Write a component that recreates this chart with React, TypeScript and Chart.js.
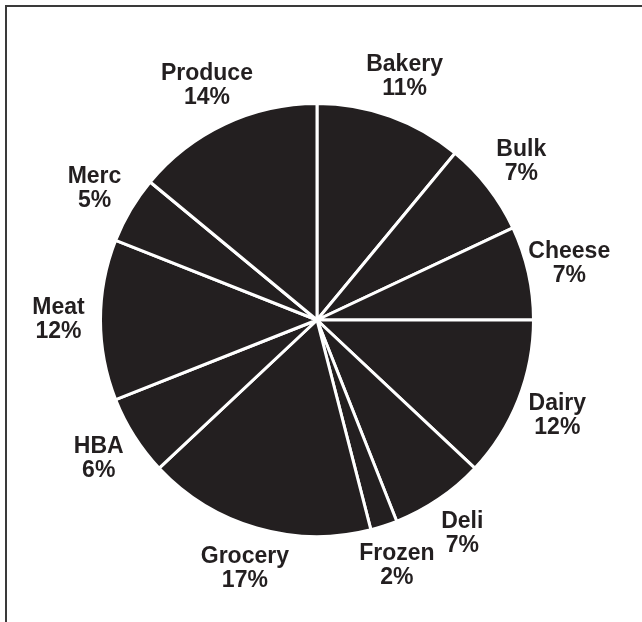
import React, { useEffect, useRef } from "react";
import { Chart, registerables } from "chart.js";

Chart.register(...registerables);

const categories = ["Bakery", "Bulk", "Cheese", "Dairy", "Deli", "Frozen", "Grocery", "HBA", "Meat", "Merc", "Produce"];
const shares = [11, 7, 7, 12, 7, 2, 17, 6, 12, 5, 14];
const percentLabels = ["11%", "7%", "7%", "12%", "7%", "2%", "17%", "6%", "12%", "5%", "14%"];

const INK = "#231f20";

const framePlugin = {
  id: "frame",
  beforeDraw(chart: any) {
    const ctx = chart.ctx;
    ctx.save();
    ctx.strokeStyle = "#3a3a3a";
    ctx.lineWidth = 2;
    ctx.beginPath();
    ctx.moveTo(6, chart.height);
    ctx.lineTo(6, 6);
    ctx.lineTo(chart.width, 6);
    ctx.stroke();
    ctx.restore();
  },
};

const labelPlugin = {
  id: "outerLabels",
  afterDatasetsDraw(chart: any) {
    const ctx = chart.ctx;
    const meta = chart.getDatasetMeta(0);
    ctx.save();
    ctx.fillStyle = INK;
    ctx.font = "bold 23px 'Liberation Sans', Arial, Helvetica, sans-serif";
    ctx.textAlign = "center";
    ctx.textBaseline = "middle";
    meta.data.forEach((arc: any, i: number) => {
      const p = arc.getProps(["x", "y", "startAngle", "endAngle", "outerRadius"], true);
      const mid = (p.startAngle + p.endAngle) / 2;
      const r = p.outerRadius + 42;
      const cx = p.x + Math.cos(mid) * r;
      const cy = p.y + Math.sin(mid) * r;
      ctx.fillText(categories[i], cx, cy - 12);
      ctx.fillText(percentLabels[i], cx, cy + 12);
    });
    ctx.restore();
  },
};

export default function App() {
  const ref = useRef<HTMLCanvasElement | null>(null);
  useEffect(() => {
    if (!ref.current) return;
    const chart = new Chart(ref.current, {
      type: "pie",
      data: {
        labels: categories,
        datasets: [
          {
            data: shares,
            backgroundColor: INK,
            borderColor: "#ffffff",
            borderWidth: 3,
          },
        ],
      },
      options: {
        responsive: false,
        animation: false,
        layout: { padding: { left: 99, right: 107, top: 102, bottom: 84 } },
        plugins: {
          legend: { display: false },
          tooltip: { enabled: false },
        },
      },
      plugins: [framePlugin, labelPlugin],
    });
    return () => chart.destroy();
  }, []);
  return (
    <div style={{ position: "absolute", left: 0, top: 0, width: 642, height: 622, background: "#fff" }}>
      <canvas ref={ref} width={642} height={622} />
    </div>
  );
}
